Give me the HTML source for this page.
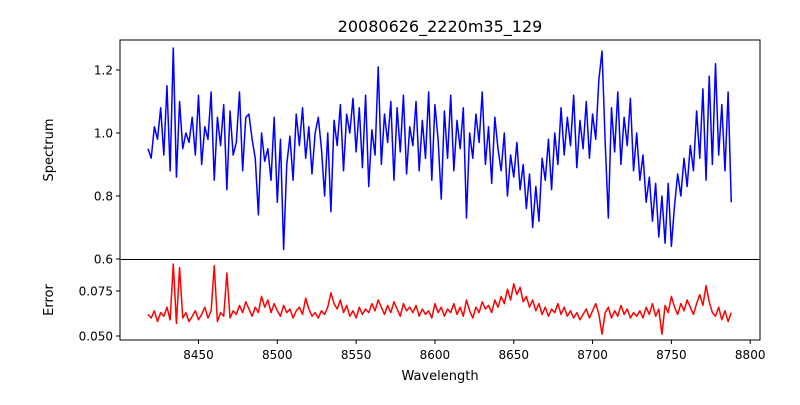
<!DOCTYPE html>
<html><head><meta charset="utf-8"><style>
body{margin:0;background:#fff}
svg{font-family:"DejaVu Sans","Liberation Sans",sans-serif}
</style></head><body>
<svg id="chart" width="800" height="400" viewBox="0 0 800 400" xmlns="http://www.w3.org/2000/svg">
<rect width="800" height="400" fill="#fff"/>
<text x="440" y="32" font-size="16" text-anchor="middle">20080626_2220m35_129</text>
<text transform="translate(53,150) rotate(-90)" font-size="13" text-anchor="middle">Spectrum</text>
<text transform="translate(53,300) rotate(-90)" font-size="13" text-anchor="middle">Error</text>
<text x="440" y="380" font-size="13" text-anchor="middle">Wavelength</text>
<g id="g"></g>
</svg>
<script>
const xStart = 8418, xStep = 2;
const spectrum = [0.95,0.92,1.02,0.98,1.08,0.93,1.15,0.88,1.27,0.86,1.10,0.95,
1.00,0.97,1.05,0.93,1.12,0.90,1.02,0.98,1.13,0.85,1.05,0.96,
1.09,0.82,1.07,0.93,0.97,1.13,0.88,1.05,1.06,0.98,0.92,0.74,
1.00,0.91,0.95,0.85,1.05,0.78,0.98,0.63,0.90,0.99,0.85,1.06,
0.96,1.08,0.92,1.02,0.87,1.00,1.05,0.95,0.80,1.00,0.75,1.04,
0.96,1.09,0.88,1.06,1.00,1.11,0.94,1.08,0.89,1.12,0.83,1.01,
0.93,1.21,0.90,1.06,0.97,1.10,0.85,1.08,0.94,1.12,0.87,1.02,
0.96,1.10,0.88,1.04,0.92,1.13,0.85,1.09,0.98,0.79,1.07,0.92,
1.12,0.88,1.04,0.95,1.08,0.73,1.00,0.92,1.06,0.97,1.13,0.90,
1.02,0.84,1.05,0.95,0.88,1.00,0.80,0.93,0.86,0.97,0.82,0.90,
0.76,0.87,0.70,0.83,0.72,0.92,0.85,0.98,0.82,1.00,0.90,1.08,
0.93,1.05,0.96,1.12,0.89,1.04,0.95,1.10,0.92,1.06,0.98,1.17,
1.26,0.97,0.73,1.08,0.94,1.13,0.90,1.05,0.96,1.11,0.88,1.00,
0.85,0.93,0.78,0.86,0.72,0.84,0.67,0.80,0.65,0.84,0.64,0.77,
0.87,0.80,0.92,0.83,0.96,0.88,1.07,0.92,1.14,0.85,1.18,0.90,
1.22,0.93,1.09,0.88,1.13,0.78];
const errors = [.062,.060,.064,.058,.063,.061,.066,.059,.090,.057,.088,.060,
.063,.058,.061,.064,.059,.062,.066,.060,.064,.089,.058,.063,
.061,.085,.060,.064,.062,.067,.063,.069,.065,.061,.066,.063,
.072,.066,.070,.063,.068,.064,.061,.067,.063,.065,.060,.064,
.066,.062,.071,.065,.061,.063,.060,.064,.062,.066,.074,.068,
.065,.070,.063,.067,.061,.064,.060,.066,.062,.065,.063,.068,
.064,.070,.066,.062,.067,.063,.069,.065,.061,.068,.064,.066,
.063,.067,.061,.065,.062,.064,.060,.068,.063,.066,.061,.065,
.063,.068,.062,.066,.061,.070,.064,.060,.066,.063,.069,.065,
.067,.063,.070,.066,.072,.068,.076,.070,.079,.073,.077,.069,
.072,.066,.070,.064,.068,.062,.066,.061,.065,.063,.068,.062,
.066,.061,.064,.060,.063,.059,.062,.065,.060,.064,.068,.062,
.051,.063,.066,.060,.064,.061,.067,.062,.065,.060,.063,.061,
.064,.060,.066,.062,.068,.061,.065,.051,.067,.063,.072,.066,
.062,.068,.064,.070,.066,.062,.068,.073,.067,.078,.069,.063,
.061,.066,.059,.064,.058,.063];
const xTicks = [8450,8500,8550,8600,8650,8700,8750,8800];
const specTicks = [0.6,0.8,1.0,1.2];
const errTicks = [0.050,0.075];

const NS = "http://www.w3.org/2000/svg";
const g = document.getElementById('g');
const L = 120, R = 760;
const xs = v => 198.5 + (v - 8450) * (750.2 - 198.5) / 350;
const ys1 = v => 259 - (v - 0.6) * 315;
const ys2 = v => 336 - (v - 0.05) * 1800;
function mk(tag, attrs){const e=document.createElementNS(NS,tag);for(const k in attrs)e.setAttribute(k,attrs[k]);g.appendChild(e);return e;}

function series(arr, ys, color, name){
  const pts = arr.map((v,i)=>xs(xStart+i*xStep).toFixed(2)+','+ys(v).toFixed(2)).join(' ');
  const p = mk('polyline',{points:pts,fill:'none',stroke:color,'stroke-width':1.5,'stroke-linejoin':'round'});
  
  
}
series(spectrum, ys1, '#0000ff', 'spectrum-line');
series(errors, ys2, '#ff0000', 'error-line');

const f1 = mk('rect',{x:L,y:40,width:R-L,height:219.5,fill:'none',stroke:'#000','stroke-width':1});


const f2 = mk('rect',{x:L,y:259.5,width:R-L,height:80.5,fill:'none',stroke:'#000','stroke-width':1});



xTicks.forEach(t=>{
  const x = xs(t);
  const l = mk('line',{x1:x,x2:x,y1:340,y2:344,stroke:'#000'});
  
  
  const tx = mk('text',{x:x,y:359,'font-size':12,'text-anchor':'middle'});
  tx.textContent = t;
  
  
});
specTicks.forEach(t=>{
  const y = ys1(t);
  const l = mk('line',{x1:116,x2:120,y1:y,y2:y,stroke:'#000'});
  
  
  const tx = mk('text',{x:113,y:y+4.5,'font-size':12,'text-anchor':'end'});
  tx.textContent = t.toFixed(1);
  
  
});
errTicks.forEach(t=>{
  const y = ys2(t);
  const l = mk('line',{x1:116,x2:120,y1:y,y2:y,stroke:'#000'});
  
  
  const tx = mk('text',{x:113,y:y+4.5,'font-size':12,'text-anchor':'end'});
  tx.textContent = t.toFixed(3);
  
  
});
</script>
</body></html>
